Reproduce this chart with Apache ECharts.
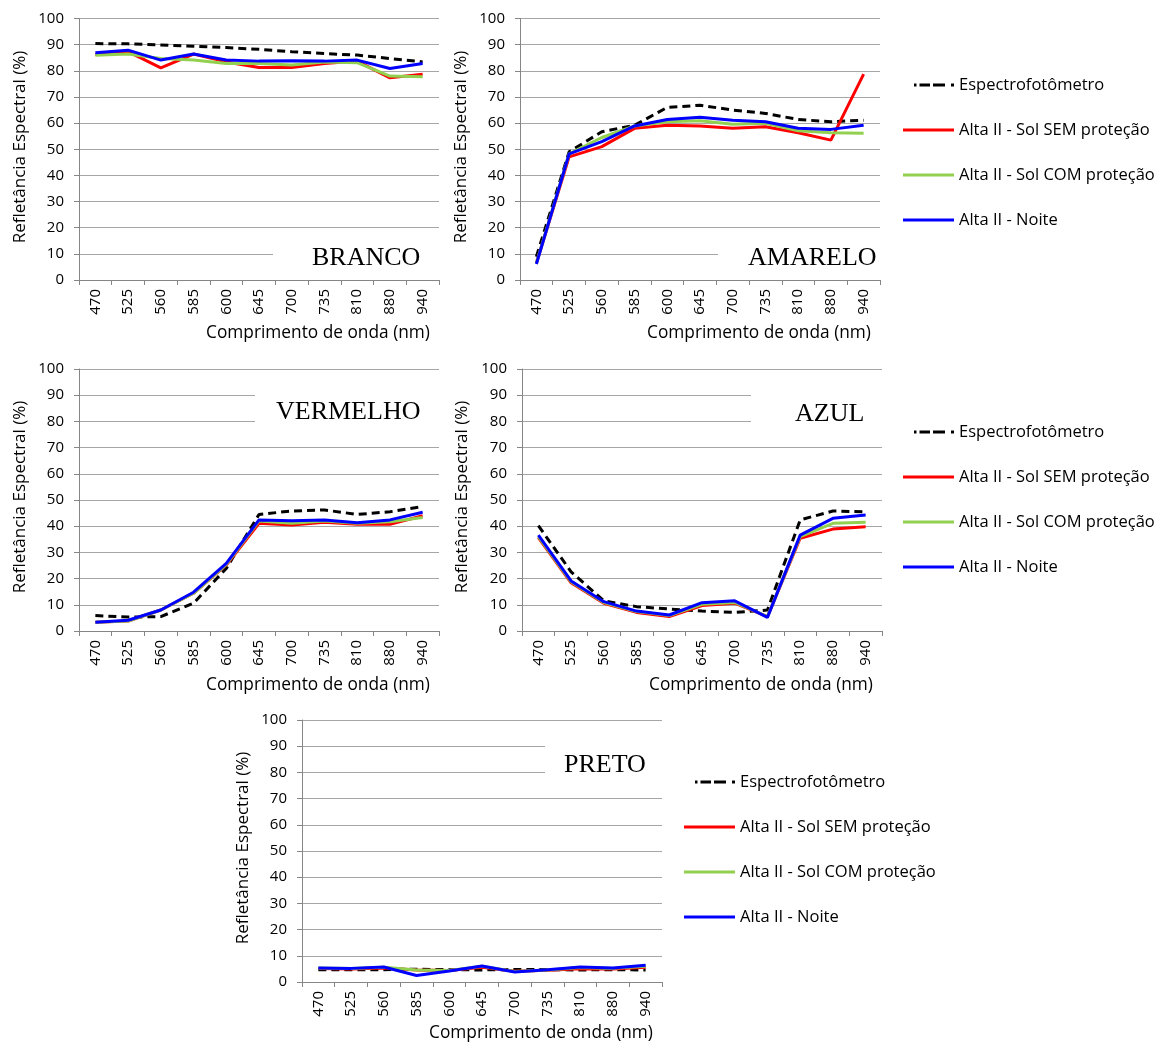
<!DOCTYPE html>
<html>
<head>
<meta charset="utf-8">
<script src="https://cdn.jsdelivr.net/npm/echarts@6/dist/echarts.min.js"></script>
<style>html,body{margin:0;padding:0;background:#fff}#c{width:1162px;height:1044px}</style>
</head>
<body>
<div id="c"></div>
<script>
const categories = ['470','525','560','585','600','645','700','735','810','880','940'];
const seriesNames = ['Espectrofotômetro','Alta II - Sol SEM proteção','Alta II - Sol COM proteção','Alta II - Noite'];
const yTicks = [0,10,20,30,40,50,60,70,80,90,100];
const panelTitles = ['BRANCO','AMARELO','VERMELHO','AZUL','PRETO'];

const brancoEspectro = [90.4,90.3,89.9,89.4,88.9,88.2,87.3,86.6,86.0,84.7,83.4];
const brancoSem      = [86.2,87.3,81.1,86.4,83.4,81.3,81.3,82.8,83.7,77.3,78.7];
const brancoCom      = [85.9,86.4,84.7,84.1,82.8,82.8,82.2,83.4,83.1,78.0,77.7];
const brancoNoite    = [86.9,87.9,84.1,86.4,84.1,83.7,83.8,83.7,84.1,80.9,82.8];

const amareloEspectro = [8.9,49.0,56.7,59.2,66.0,66.8,65.0,63.7,61.4,60.5,61.1];
const amareloSem      = [6.4,47.1,51.0,58.0,59.2,58.9,58.0,58.6,56.3,53.5,78.7];
const amareloCom      = [6.4,48.2,54.5,58.9,60.5,60.9,59.6,59.9,57.1,56.3,56.1];
const amareloNoite    = [6.1,48.2,52.9,58.9,61.4,62.2,61.1,60.5,58.0,57.6,59.2];

const vermelhoEspectro = [5.9,5.3,5.5,10.6,23.9,44.5,45.8,46.2,44.5,45.5,47.5];
const vermelhoSem      = [3.3,3.8,8.0,14.4,25.2,41.1,40.5,41.5,40.7,40.7,44.0];
const vermelhoCom      = [3.3,3.8,8.0,14.4,25.4,42.0,41.1,42.0,41.1,41.7,43.3];
const vermelhoNoite    = [3.3,4.1,8.0,14.8,25.8,42.4,42.1,42.4,41.3,42.4,45.3];

const azulEspectro = [40.2,22.6,11.5,9.3,8.4,7.6,7.1,8.0,42.4,45.8,45.5];
const azulSem      = [35.6,18.4,10.6,7.1,5.5,9.7,10.6,5.5,35.4,38.9,39.8];
const azulCom      = [36.0,18.8,10.9,7.4,5.9,10.2,10.9,5.5,36.0,41.1,41.5];
const azulNoite    = [36.6,19.1,11.2,7.6,6.1,10.8,11.5,5.2,36.6,43.0,44.3];

const pretoEspectro = [4.7,4.7,4.7,4.9,4.7,4.6,4.8,4.7,4.6,4.7,4.6];
const pretoSem      = [5.2,5.0,5.3,4.6,4.4,5.6,4.1,4.5,5.1,5.0,5.6];
const pretoCom      = [5.3,5.2,5.6,4.6,4.4,6.0,4.0,4.6,5.5,5.2,6.0];
const pretoNoite    = [5.3,5.2,5.7,2.5,4.2,6.1,3.8,4.7,5.7,5.3,6.4];

const panelData = [
  [brancoEspectro, brancoSem, brancoCom, brancoNoite],
  [amareloEspectro, amareloSem, amareloCom, amareloNoite],
  [vermelhoEspectro, vermelhoSem, vermelhoCom, vermelhoNoite],
  [azulEspectro, azulSem, azulCom, azulNoite],
  [pretoEspectro, pretoSem, pretoCom, pretoNoite]
];

const FONT = 'Open Sans';
const colors = ['#000000','#FF0000','#92D050','#0000FF'];

const grids = [
  {left:79, top:18.5, width:360, height:261.5},
  {left:520, top:18.5, width:360, height:261.5},
  {left:79, top:369, width:360, height:262},
  {left:522, top:369, width:360, height:262},
  {left:302, top:720, width:360, height:262}
];

const xAxes = [], yAxes = [], series = [];
grids.forEach((g, i) => {
  xAxes.push({
    type:'category', gridIndex:i, data:categories, boundaryGap:true,
    axisLine:{show:true, lineStyle:{color:'#868686', width:1}},
    axisTick:{show:true, length:5, lineStyle:{color:'#868686'}},
    axisLabel:{rotate:90, margin:9, color:'#000', fontFamily:FONT, fontSize:15, interval:0}
  });
  yAxes.push({
    type:'value', gridIndex:i, min:0, max:100, interval:10,
    axisLine:{show:true, lineStyle:{color:'#868686', width:1}},
    axisTick:{show:true, length:5, lineStyle:{color:'#868686'}},
    axisLabel:{margin:15, color:'#000', fontFamily:FONT, fontSize:15},
    splitLine:{show:true, lineStyle:{color:'#A6A6A6', width:1}}
  });
  panelData[i].forEach((arr, k) => {
    series.push({
      name: seriesNames[k], type:'line', xAxisIndex:i, yAxisIndex:i,
      data: arr, symbol:'none', smooth:false, animation:false,
      lineStyle: k === 0 ? {color:colors[k], width:3, type:[8,5]} : {color:colors[k], width:3},
      itemStyle:{color:colors[k]},
      z: 2 + k
    });
  });
});

const solidIcon = 'path://M0,0H51V3H0Z';
const dashIcon = 'path://M0,0M11,0h2.5v3h-2.5z M16.5,0h10.5v3h-10.5z M30,0h12v3h-12z M48,0h3v3h-3z';

function legendAt(left, top) {
  return {
    orient:'vertical', left:left, top:top, itemWidth:51, itemHeight:3, itemGap:27,
    symbolKeepAspect:false,
    textStyle:{color:'#000', fontFamily:FONT, fontSize:16.5, lineHeight:18, padding:[0,0,0,0]},
    data: seriesNames.map((n, k) => ({name:n, icon: k === 0 ? dashIcon : solidIcon})),
    selectedMode:false
  };
}

const graphic = [];
const boxes = [
  {x:273, y:236, w:166, h:40, tx:312, ty:258, t:panelTitles[0]},
  {x:718, y:236, w:162, h:40, tx:748, ty:258, t:panelTitles[1]},
  {x:255, y:382, w:184, h:56, tx:276, ty:412, t:panelTitles[2]},
  {x:751, y:382, w:131, h:56, tx:795, ty:414, t:panelTitles[3]},
  {x:545, y:733, w:117, h:56, tx:564, ty:765, t:panelTitles[4]}
];
boxes.forEach(b => {
  graphic.push({type:'rect', shape:{x:b.x, y:b.y, width:b.w, height:b.h}, style:{fill:'#fff'}, z:50, silent:true});
  graphic.push({type:'text', x:b.tx, y:b.ty, style:{text:b.t, fill:'#000', font:'26px "Liberation Serif"', textAlign:'left', textVerticalAlign:'middle'}, z:51, silent:true});
});
const yTitles = [[20,147],[461,147],[20,497],[462,497],[243,848]];
yTitles.forEach(p => {
  graphic.push({type:'text', x:p[0], y:p[1], rotation:Math.PI/2, style:{text:'Refletância Espectral (%)', fill:'#000', font:'17px "Open Sans"', textAlign:'center', textVerticalAlign:'middle'}, z:51, silent:true});
});
const xTitles = [[318,333],[759,333],[318,685],[761,685],[541,1033]];
xTitles.forEach(p => {
  graphic.push({type:'text', x:p[0], y:p[1], style:{text:'Comprimento de onda (nm)', fill:'#000', font:'17.3px "Open Sans"', textAlign:'center', textVerticalAlign:'middle'}, z:51, silent:true});
});

const chart = echarts.init(document.getElementById('c'), null, {renderer:'canvas'});
chart.setOption({
  animation:false,
  backgroundColor:'#fff',
  grid: grids,
  xAxis: xAxes,
  yAxis: yAxes,
  legend: [legendAt(898, 71), legendAt(898, 418), legendAt(679, 768)],
  series: series,
  graphic: graphic
});
</script>
</body>
</html>
